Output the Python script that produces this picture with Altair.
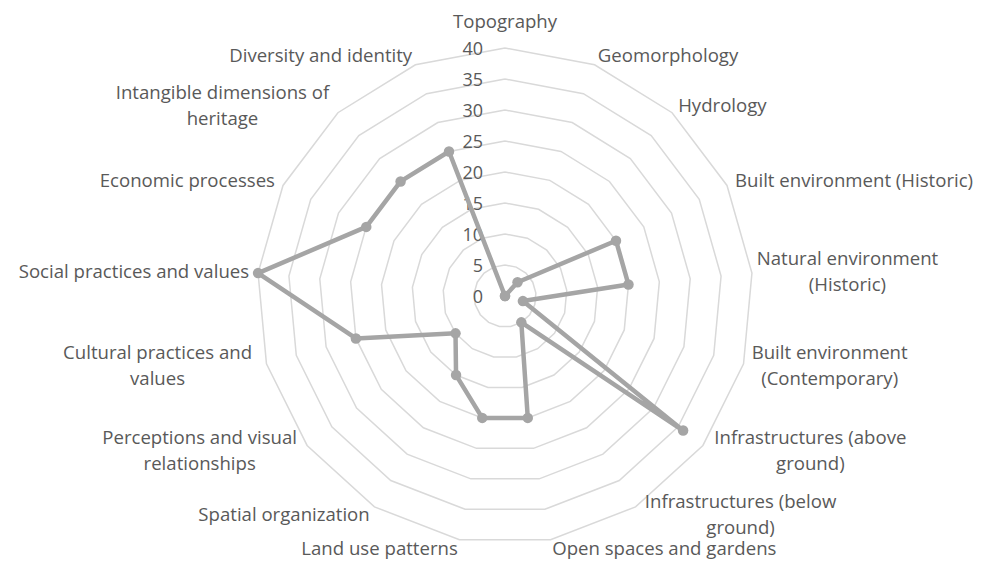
import math
import altair as alt
import pandas as pd

# ---- data ----
categories = [
    "Topography", "Geomorphology", "Hydrology", "Built environment (Historic)",
    "Natural environment (Historic)", "Built environment (Contemporary)",
    "Infrastructures (above ground)", "Infrastructures (below ground)",
    "Open spaces and gardens", "Land use patterns", "Spatial organization",
    "Perceptions and visual relationships", "Cultural practices and values",
    "Social practices and values", "Economic processes",
    "Intangible dimensions of heritage", "Diversity and identity",
]
label_text = [
    "Topography", "Geomorphology", "Hydrology", "Built environment (Historic)",
    "Natural environment\n(Historic)", "Built environment\n(Contemporary)",
    "Infrastructures (above\nground)", "Infrastructures (below\nground)",
    "Open spaces and gardens", "Land use patterns", "Spatial organization",
    "Perceptions and visual\nrelationships", "Cultural practices and\nvalues",
    "Social practices and values", "Economic processes",
    "Intangible dimensions of\nheritage", "Diversity and identity",
]
values = [0, 0, 3, 20, 20, 3, 36, 5, 20, 20, 15, 10, 25, 40, 25, 25, 25]
ticks = [0, 5, 10, 15, 20, 25, 30, 35, 40]

# ---- layout ----
W, H = 968, 555
K = 6.2            # pixels per unit
CX, CY = 497, 288  # centre in plot pixels
FS = 18.6
LH = 26
LABEL_COLOR = "#595959"
n = len(categories)
rmax = max(ticks)

xdom = [-CX / K, (W - CX) / K]
ydom = [-(H - CY) / K, CY / K]
xs = alt.Scale(domain=xdom, nice=False, zero=False)
ys = alt.Scale(domain=ydom, nice=False, zero=False)


def ang(i):
    return 2 * math.pi * i / n


# grid rings
ring_rows = []
for t in ticks[1:]:
    for j in range(n + 1):
        a = ang(j % n)
        ring_rows.append({"ring": t, "ord": j, "x": t * math.sin(a), "y": t * math.cos(a)})
rings = pd.DataFrame(ring_rows)

# series
ser_rows = []
for j in range(n + 1):
    i = j % n
    a = ang(i)
    ser_rows.append({"ord": j, "cat": categories[i], "v": values[i],
                     "x": values[i] * math.sin(a), "y": values[i] * math.cos(a)})
series = pd.DataFrame(ser_rows)
points = series.iloc[:n]

# tick labels
tick_df = pd.DataFrame({"t": [str(t) for t in ticks],
                        "x": [-22 / K] * len(ticks),
                        "y": [t - 0.3 for t in ticks]})

# category labels
left_rows, right_rows, center_rows = [], [], []
off = 9 / K
for i, txt in enumerate(label_text):
    a = ang(i)
    s, c = math.sin(a), math.cos(a)
    if abs(s) < 0.05:
        r = rmax + 26 / K
        center_rows.append({"text": txt, "x": r * s, "y": r * c})
        continue
    r = rmax + off
    x, y = r * s, r * c
    lines = txt.split("\n")
    if len(lines) > 1:
        w = max(len(l) for l in lines) * 0.49 * FS / K
        x = x + (w / 2 if s > 0 else -w / 2)
        y = y + (len(lines) - 1) * LH / 2 / K
        center_rows.append({"text": txt, "x": x, "y": y})
    elif s > 0:
        left_rows.append({"text": txt, "x": x, "y": y})
    else:
        right_rows.append({"text": txt, "x": x, "y": y})

enc = dict(x=alt.X("x:Q", scale=xs, axis=None), y=alt.Y("y:Q", scale=ys, axis=None))

ring_layer = alt.Chart(rings).mark_line(color="#d9d9d9", strokeWidth=1.5).encode(
    detail="ring:N", order="ord:Q", **enc)

tick_layer = alt.Chart(tick_df).mark_text(
    align="right", baseline="middle", fontSize=18, font="Open Sans", color=LABEL_COLOR
).encode(text="t:N", **enc)

line_layer = alt.Chart(series).mark_line(
    color="#a5a5a5", strokeWidth=4.5, strokeJoin="round").encode(order="ord:Q", **enc)

pt_layer = alt.Chart(points).mark_circle(size=110, color="#a5a5a5", opacity=1).encode(**enc)


def lab(rows, align):
    return alt.Chart(pd.DataFrame(rows)).mark_text(
        align=align, baseline="middle", fontSize=FS, font="Open Sans",
        color=LABEL_COLOR, lineBreak="\n", lineHeight=LH
    ).encode(text="text:N", **enc)


chart = alt.layer(
    ring_layer, tick_layer, line_layer, pt_layer,
    lab(left_rows, "left"), lab(right_rows, "right"), lab(center_rows, "center"),
).properties(
    width=W, height=H, autosize=alt.AutoSizeParams(type="none"), padding=0,
    background="white",
).configure_view(stroke=None)

chart.save("out.html", embed_options={"renderer": "svg", "actions": False})
